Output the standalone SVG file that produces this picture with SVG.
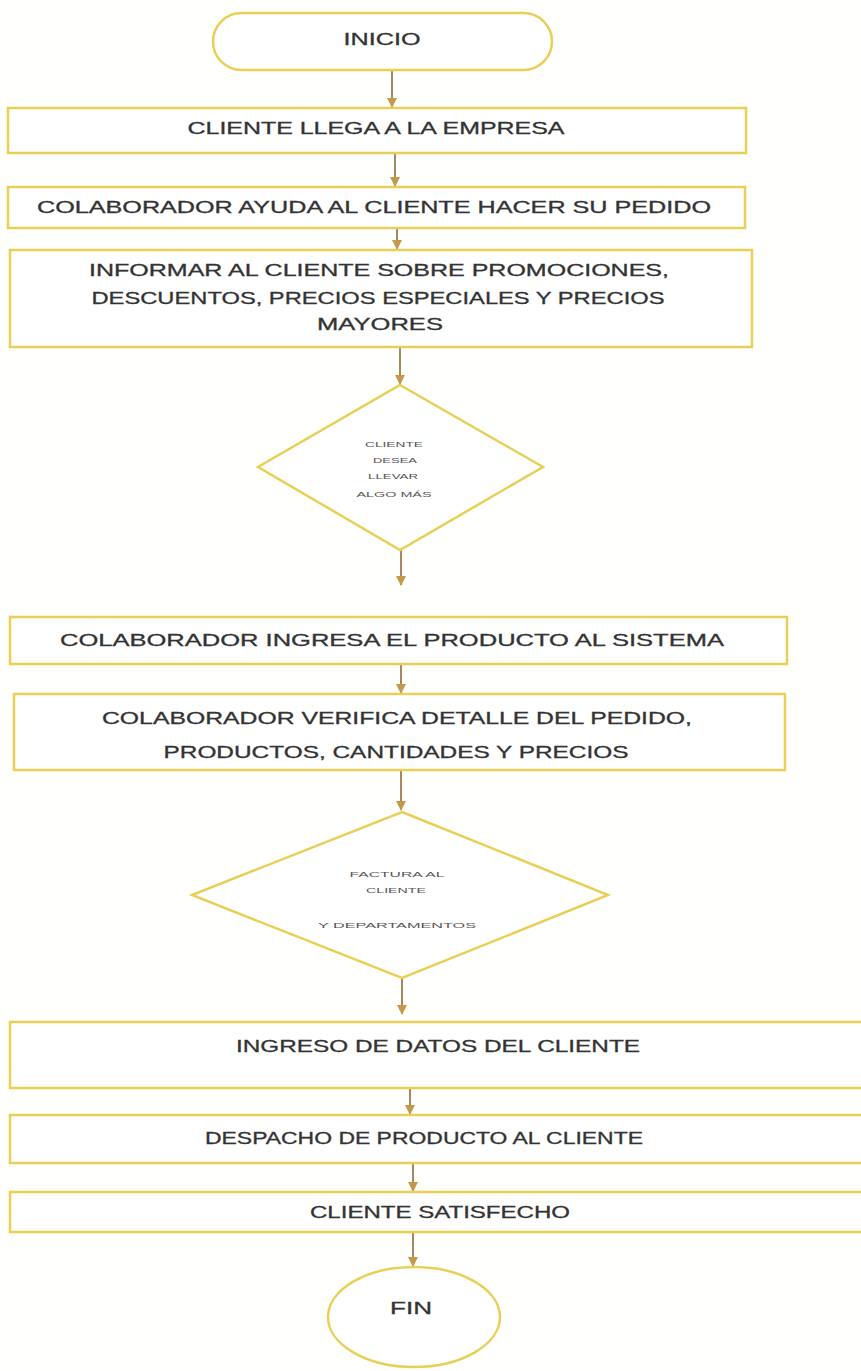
<svg xmlns="http://www.w3.org/2000/svg" width="861" height="1371" viewBox="0 0 861 1371">
<defs>
<style>
.n{fill:#ffffff;stroke:#e9cf55;stroke-width:2.5}
.t{font-family:"Liberation Sans",Arial,sans-serif;font-size:17px;fill:#333333;text-anchor:middle;stroke:#333333;stroke-width:0.3}
.s{font-family:"Liberation Sans",Arial,sans-serif;font-size:8px;fill:#555555;text-anchor:middle}
.c{stroke:#a8875f;stroke-width:2;fill:none;marker-end:url(#ah)}
</style>
<marker id="ah" viewBox="0 0 10 10" refX="9" refY="5" markerWidth="5" markerHeight="5" orient="auto">
<path d="M0,0 L10,5 L0,10 z" fill="#c49a4a"/>
</marker>
</defs>
<rect width="861" height="1371" fill="#fffffd"/>
<g id="connectors">
<line class="c" x1="392" y1="70" x2="392" y2="107"/>
<line class="c" x1="395" y1="153" x2="395" y2="186"/>
<line class="c" x1="397" y1="228" x2="397" y2="249"/>
<line class="c" x1="400" y1="347" x2="400" y2="384"/>
<line class="c" x1="401" y1="550" x2="401" y2="585"/>
<line class="c" x1="401" y1="664" x2="401" y2="693"/>
<line class="c" x1="401" y1="770" x2="401" y2="810"/>
<line class="c" x1="402" y1="978" x2="402" y2="1014"/>
<line class="c" x1="410" y1="1088" x2="410" y2="1114"/>
<line class="c" x1="413" y1="1163" x2="413" y2="1191"/>
<line class="c" x1="413" y1="1232" x2="413" y2="1266"/>
</g>
<g id="inicio">
<rect class="n" x="213" y="13" width="339" height="57" rx="28.5"/>
<text class="t" x="382" y="45" textLength="77" lengthAdjust="spacingAndGlyphs">INICIO</text>
</g>
<g id="n1">
<rect class="n" x="8" y="108" width="738" height="45"/>
<text class="t" x="376" y="134" textLength="377" lengthAdjust="spacingAndGlyphs">CLIENTE LLEGA A LA EMPRESA</text>
</g>
<g id="n2">
<rect class="n" x="8" y="187" width="737" height="41"/>
<text class="t" x="374" y="213" textLength="674" lengthAdjust="spacingAndGlyphs">COLABORADOR AYUDA AL CLIENTE HACER SU PEDIDO</text>
</g>
<g id="n3">
<rect class="n" x="10" y="250" width="742" height="97"/>
<text class="t" x="379" y="276" textLength="580" lengthAdjust="spacingAndGlyphs">INFORMAR AL CLIENTE SOBRE PROMOCIONES,</text>
<text class="t" x="378" y="304" textLength="573" lengthAdjust="spacingAndGlyphs">DESCUENTOS, PRECIOS ESPECIALES Y PRECIOS</text>
<text class="t" x="380" y="330" textLength="126" lengthAdjust="spacingAndGlyphs">MAYORES</text>
</g>
<g id="d1">
<polygon class="n" points="400,385 543,467 400,550 258,467"/>
<text class="s" x="394" y="447" textLength="58" lengthAdjust="spacingAndGlyphs">CLIENTE</text>
<text class="s" x="395" y="463" textLength="44" lengthAdjust="spacingAndGlyphs">DESEA</text>
<text class="s" x="393" y="479" textLength="50" lengthAdjust="spacingAndGlyphs">LLEVAR</text>
<text class="s" x="394" y="497" textLength="75" lengthAdjust="spacingAndGlyphs">ALGO MÁS</text>
</g>
<g id="n4">
<rect class="n" x="10" y="617" width="777" height="47"/>
<text class="t" x="392" y="646" textLength="664" lengthAdjust="spacingAndGlyphs">COLABORADOR INGRESA EL PRODUCTO AL SISTEMA</text>
</g>
<g id="n5">
<rect class="n" x="14" y="694" width="771" height="76"/>
<text class="t" x="397" y="724" textLength="590" lengthAdjust="spacingAndGlyphs">COLABORADOR VERIFICA DETALLE DEL PEDIDO,</text>
<text class="t" x="396" y="758" textLength="465" lengthAdjust="spacingAndGlyphs">PRODUCTOS, CANTIDADES Y PRECIOS</text>
</g>
<g id="d2">
<polygon class="n" points="402,812 608,895 402,978 192,895"/>
<text class="s" x="397" y="877" textLength="95" lengthAdjust="spacingAndGlyphs">FACTURA AL</text>
<text class="s" x="396" y="893" textLength="60" lengthAdjust="spacingAndGlyphs">CLIENTE</text>
<text class="s" x="397" y="928" textLength="158" lengthAdjust="spacingAndGlyphs">Y DEPARTAMENTOS</text>
</g>
<g id="n6">
<rect class="n" x="10" y="1022" width="860" height="66"/>
<text class="t" x="438" y="1052" textLength="404" lengthAdjust="spacingAndGlyphs">INGRESO DE DATOS DEL CLIENTE</text>
</g>
<g id="n7">
<rect class="n" x="10" y="1115" width="860" height="48"/>
<text class="t" x="424" y="1144" textLength="438" lengthAdjust="spacingAndGlyphs">DESPACHO DE PRODUCTO AL CLIENTE</text>
</g>
<g id="n8">
<rect class="n" x="10" y="1192" width="860" height="40"/>
<text class="t" x="440" y="1218" textLength="260" lengthAdjust="spacingAndGlyphs">CLIENTE SATISFECHO</text>
</g>
<g id="fin">
<ellipse class="n" cx="414" cy="1317" rx="86" ry="50"/>
<text class="t" x="411" y="1314" textLength="42" lengthAdjust="spacingAndGlyphs">FIN</text>
</g>
</svg>
